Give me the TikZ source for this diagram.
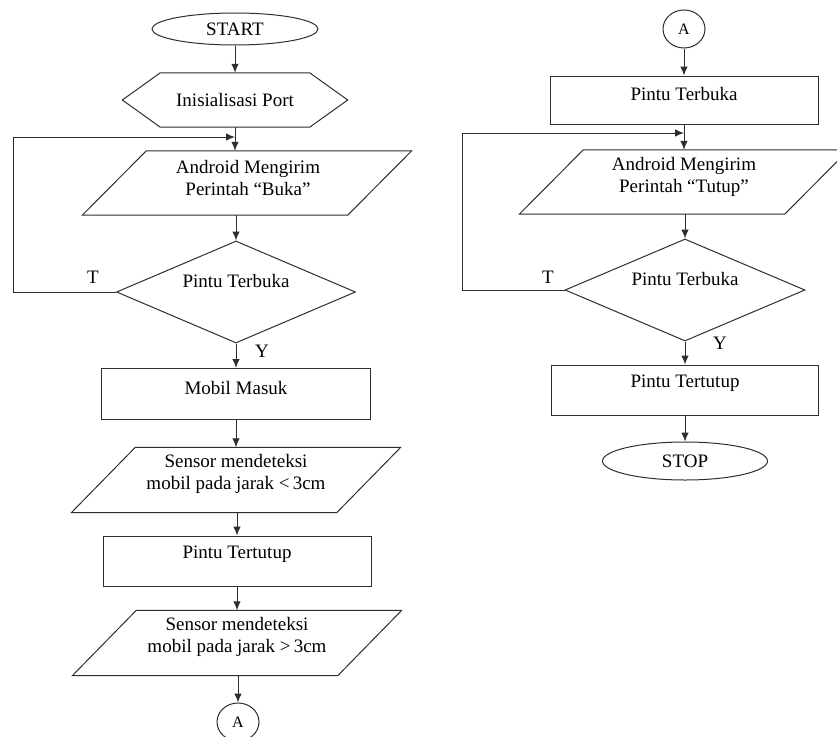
\documentclass[tikz,border=0pt]{standalone}
\usepackage{fontspec}
\setmainfont{Liberation Serif}
\usetikzlibrary{shapes.geometric,arrows.meta,calc}
\newcommand\paradraw[1]{\draw[line] ($(#1.north west)+(32,0)$) -- ($(#1.north east)+(32,0)$)
  -- ($(#1.south east)+(-32,0)$) -- ($(#1.south west)+(-32,0)$) -- cycle;}
\begin{document}
\begin{tikzpicture}[x=1pt,y=-1pt,
  every node/.style={font=\fontsize{19}{22}\selectfont, align=center, inner sep=0pt},
  line/.style={draw=black!82, line width=1pt},
  arr/.style={line, -{Latex[length=9pt,width=7.5pt]}},
  term/.style={line, ellipse, minimum width=166pt, minimum height=32pt},
  conn/.style={line, ellipse, minimum width=42pt, minimum height=38pt, font=\fontsize{16}{18}\selectfont},
  proc/.style={line, rectangle, minimum width=268pt, minimum height=50pt},
  io/.style={rectangle, minimum width=265pt, minimum height=64pt},
  dec/.style={line, diamond, minimum width=239pt, minimum height=102pt},
  lbl/.style={font=\fontsize{19}{22}\selectfont}
]
\useasboundingbox (0,0) rectangle (837,736);
% ---------- left column ----------
\node[term] (start) at (235,29) {START};
\node[minimum width=225pt, minimum height=54pt] (ini) at (235,100) {Inisialisasi Port};
\draw[line] (ini.west) -- ($(ini.north west)+(38,0)$) -- ($(ini.north east)+(-38,0)$) -- (ini.east)
  -- ($(ini.south east)+(-38,0)$) -- ($(ini.south west)+(38,0)$) -- cycle;
\node[io] (and1) at (247,183) {};
\paradraw{and1}
\node (and1t) at ($(and1)+(1,-5)$) {Android Mengirim\\Perintah “Buka”};
\node[dec] (dec1) at (236,292) {};
\node (dec1t) at ($(dec1)+(0,-11)$) {Pintu Terbuka};
\node[proc, minimum width=269pt, minimum height=51pt] (mobil) at (236,394) {};
\node (mobilt) at ($(mobil)+(0,-6)$) {Mobil Masuk};
\node[io, minimum height=65pt] (sen1) at (236,480) {};
\paradraw{sen1}
\node (sen1t) at ($(sen1)+(0,-6)$) {Sensor mendeteksi\\mobil pada jarak \textless\,3cm};
\node[proc] (tutup1) at (237,561) {};
\node (tutup1t) at ($(tutup1)+(0,-7)$) {Pintu Tertutup};
\node[io, minimum height=65pt] (sen2) at (237,643) {};
\paradraw{sen2}
\node (sen2t) at ($(sen2)+(0,-6)$) {Sensor mendeteksi\\mobil pada jarak \textgreater\,3cm};
\node[conn] (a1) at (238,722) {A};
\coordinate (l1) at (13,137);
\node[lbl] (t1) at (93,277) {T};
\node[lbl] (y1) at (262,351) {Y};

\draw[arr] (start) -- (ini);
\draw[arr] (ini.south) -- (ini.south |- and1.north);
\draw[arr] (and1.south -| dec1.north) -- (dec1.north);
\draw[line] (dec1.west) -| (l1);
\draw[arr] (l1) -- (l1 -| ini.south);
\draw[arr] (dec1.south) -- (mobil.north);
\draw[arr] (mobil.south) -- (mobil.south |- sen1.north);
\draw[arr] (sen1.south -| tutup1.north) -- (tutup1.north);
\draw[arr] (tutup1.south) -- (tutup1.south |- sen2.north);
\draw[arr] (sen2.south -| a1.north) -- (a1.north);

% ---------- right column ----------
\node[conn] (a2) at (684,29) {A};
\node[proc, minimum height=48pt] (pt) at (684,100) {};
\node (ptt) at ($(pt)+(0,-6)$) {Pintu Terbuka};
\node[io] (and2) at (684,182) {};
\paradraw{and2}
\node (and2t) at ($(and2)+(0,-5)$) {Android Mengirim\\Perintah “Tutup”};
\node[dec, minimum width=240pt] (dec2) at (685,290) {};
\node (dec2t) at ($(dec2)+(0,-11)$) {Pintu Terbuka};
\node[proc, minimum width=267pt] (tt) at (685,390) {};
\node (ttt) at ($(tt)+(0,-7)$) {Pintu Tertutup};
\node[term, minimum width=165pt, minimum height=38pt] (stop) at (685,461) {STOP};
\coordinate (l2) at (462,133);
\node[lbl] (t2) at (548,277) {T};
\node[lbl] (y2) at (720,343) {Y};

\draw[arr] (a2) -- (pt);
\draw[arr] (pt.south) -- (and2.north);
\draw[arr] (and2.south -| dec2.north) -- (dec2.north);
\draw[line] (dec2.west) -| (l2);
\draw[arr] (l2) -- (l2 -| pt.south);
\draw[arr] (dec2.south) -- (tt.north);
\draw[arr] (tt.south) -- (stop.north);
\end{tikzpicture}
\end{document}
